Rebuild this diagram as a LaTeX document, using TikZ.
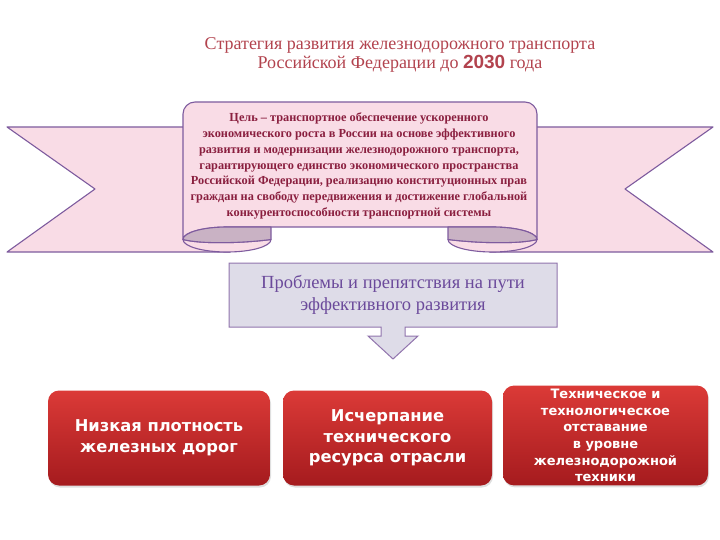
\documentclass[tikz,border=0pt]{standalone}
\usepackage{fontspec}
\setmainfont{Liberation Serif}
\newfontfamily\boxfont{DejaVu Sans}
\newfontfamily\numfont{Liberation Sans}
\usetikzlibrary{shadows}
\definecolor{ribbonpink}{HTML}{F9DCE6}
\definecolor{ribbonline}{HTML}{7E5B9E}
\definecolor{curlshade}{HTML}{C9B2C4}
\definecolor{titlered}{HTML}{B2434E}
\definecolor{goaltext}{HTML}{8A1F3F}
\definecolor{probfill}{HTML}{DEDCE8}
\definecolor{probtext}{HTML}{6B4A9B}
\definecolor{redtop}{HTML}{DB3A37}
\definecolor{redbot}{HTML}{A51B1E}
\begin{document}
\begin{tikzpicture}[x=1pt,y=-1pt,
  ribbon/.style={fill=ribbonpink,draw=ribbonline,line width=1.1pt,line join=round},
  curl/.style={fill=curlshade,draw=ribbonline,line width=1.1pt,line join=round},
  redbox/.style={rounded corners=11pt,top color=redtop,bottom color=redbot,
    drop shadow={shadow xshift=1pt,shadow yshift=-2pt,opacity=.25},
    text=white,align=center,font=\boxfont\bfseries\fontsize{16.3}{20.5}\selectfont}]
\useasboundingbox (0,0) rectangle (720,540);
% title
\node[text=titlered,align=center,font=\fontsize{18}{19.5}\selectfont] (title) at (400,55)
  {Стратегия развития железнодорожного транспорта\\
   Российской Федерации до {\numfont\bfseries\fontsize{19}{19}\selectfont 2030} года};
% ribbon tails
\draw[ribbon] (7,127) -- (230,127) -- (230,252) -- (7,252) -- (95,189) -- cycle;
\draw[ribbon] (713,127) -- (490,127) -- (490,252) -- (713,252) -- (625,189) -- cycle;
% curls under the scroll
\draw[ribbon] (183,239.5) arc[start angle=180,end angle=360,x radius=44pt,y radius=12.5pt]
  .. controls (240,243.5) and (200,244) .. cycle;
\draw[ribbon] (448,239.5) arc[start angle=180,end angle=360,x radius=44.5pt,y radius=12.5pt]
  .. controls (520,244) and (480,243.5) .. cycle;
% scroll body
\draw[ribbon] (183,239.5) -- (183,114) arc[start angle=180,end angle=90,radius=12pt]
  -- (525,102) arc[start angle=90,end angle=0,radius=12pt]
  -- (537,239.5) arc[start angle=0,end angle=90,x radius=44.5pt,y radius=12.5pt]
  -- (227,227) arc[start angle=90,end angle=180,x radius=44pt,y radius=12.5pt] -- cycle;
\draw[curl] (271,227) -- (227,227) arc[start angle=90,end angle=180,x radius=44pt,y radius=12.5pt]
  .. controls (200,244) and (240,243.5) .. (271,239.5) -- cycle;
\draw[curl] (448,227) -- (492.5,227) arc[start angle=90,end angle=0,x radius=44.5pt,y radius=12.5pt]
  .. controls (520,244) and (480,243.5) .. (448,239.5) -- cycle;
\node[text=goaltext,align=center,font=\bfseries\fontsize{12.3}{15.7}\selectfont] (goal) at (359,166)
  {Цель – транспортное обеспечение ускоренного\\
   экономического роста в России на основе эффективного\\
   развития и модернизации железнодорожного транспорта,\\
   гарантирующего единство экономического пространства\\
   Российской Федерации, реализацию конституционных прав\\
   граждан на свободу передвижения и достижение глобальной\\
   конкурентоспособности транспортной системы};
% problems callout
\draw[fill=probfill,draw=ribbonline!85,line width=1pt,line join=miter]
  (229,263) -- (557,263) -- (557,327) -- (405,327) -- (405,336) -- (418,336)
  -- (393,359) -- (368,336) -- (381,336) -- (381,327) -- (229,327) -- cycle;
\node[text=probtext,align=center,font=\fontsize{18.5}{21.5}\selectfont] (problems) at (393,295)
  {Проблемы и препятствия на пути\\эффективного развития};
% red boxes
\node[redbox,minimum width=222pt,minimum height=95pt] (density) at (159,438)
  {Низкая плотность\\железных дорог};
\node[redbox,minimum width=209pt,minimum height=95pt] (resource) at (387.5,438)
  {Исчерпание\\технического\\ресурса отрасли};
\node[redbox,minimum width=205pt,minimum height=96pt,
  font=\boxfont\bfseries\fontsize{13}{16.7}\selectfont] (lag) at (605.5,435.5)
  {Техническое и\\технологическое\\отставание\\в уровне\\железнодорожной\\техники};
\end{tikzpicture}
\end{document}
